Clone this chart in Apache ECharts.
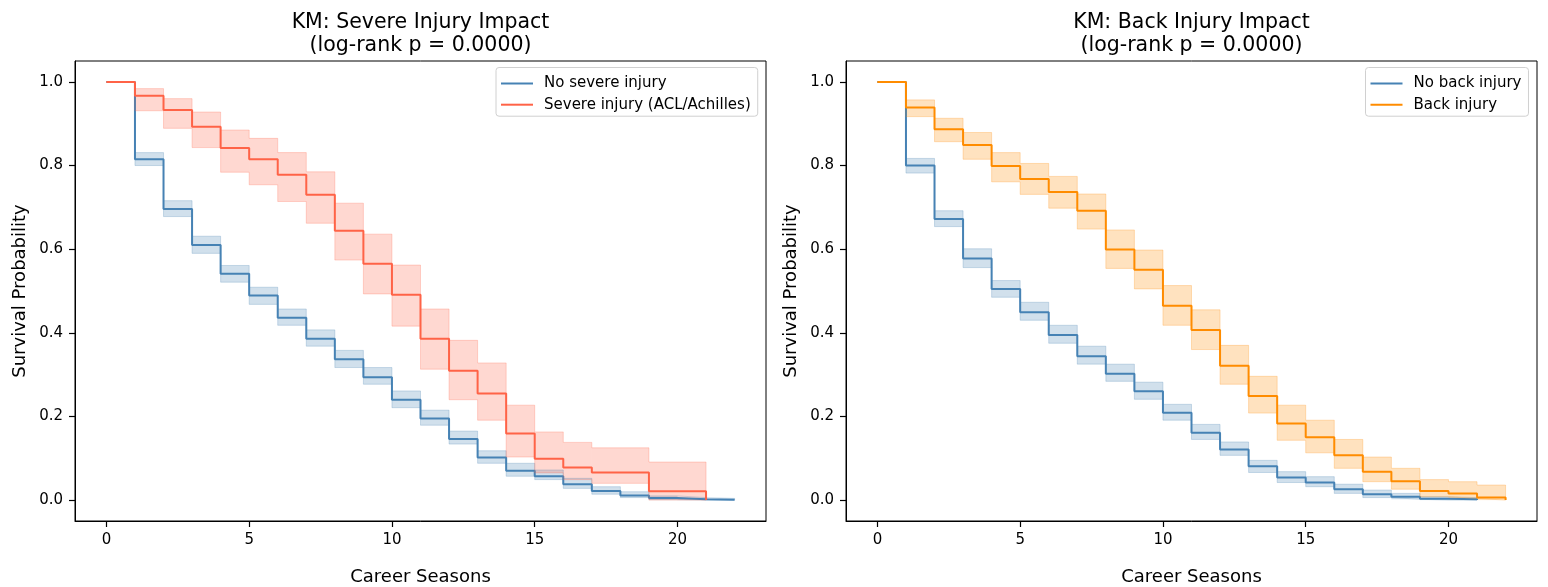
<!DOCTYPE html>
<html>
<head>
<meta charset="utf-8">
<script src="https://cdn.jsdelivr.net/npm/echarts@6/dist/echarts.min.js"></script>
<style>
  html, body { margin: 0; padding: 0; background: #fff; }
  #chart { width: 1548px; height: 587px; }
</style>
</head>
<body>
<div id="chart"></div>
<script>
// 左图：严重伤病 (ACL/Achilles)
const noSevereT = [0, 1, 2, 3, 4, 5, 6, 7, 8, 9, 10, 11, 12, 13, 14, 15, 16, 17, 18, 19, 20, 21, 22];
const noSevere = [1.0, 0.815, 0.696, 0.610, 0.541, 0.489, 0.436, 0.386, 0.337, 0.294, 0.240, 0.195, 0.146, 0.102, 0.070, 0.057, 0.038, 0.022, 0.011, 0.005, 0.002, 0.001, 0.0];
const noSevereLo = [1.0, 0.800, 0.678, 0.590, 0.521, 0.468, 0.418, 0.368, 0.317, 0.277, 0.221, 0.179, 0.134, 0.088, 0.057, 0.049, 0.028, 0.014, 0.006, 0.001, 0.0, 0.0, 0.0];
const noSevereHi = [1.0, 0.831, 0.716, 0.631, 0.561, 0.509, 0.457, 0.407, 0.358, 0.317, 0.261, 0.215, 0.165, 0.118, 0.088, 0.072, 0.052, 0.032, 0.020, 0.010, 0.006, 0.004, 0.0];

const severeT = [0, 1, 2, 3, 4, 5, 6, 7, 8, 9, 10, 11, 12, 13, 14, 15, 16, 17, 19, 21];
const severe = [1.0, 0.967, 0.933, 0.893, 0.842, 0.815, 0.778, 0.730, 0.644, 0.565, 0.491, 0.386, 0.309, 0.255, 0.159, 0.099, 0.078, 0.066, 0.021, 0.0];
const severeLo = [1.0, 0.931, 0.889, 0.843, 0.784, 0.754, 0.714, 0.662, 0.574, 0.493, 0.416, 0.313, 0.240, 0.191, 0.103, 0.065, 0.049, 0.040, 0.0, 0.0];
const severeHi = [1.0, 0.984, 0.960, 0.928, 0.885, 0.865, 0.831, 0.785, 0.710, 0.636, 0.562, 0.457, 0.382, 0.328, 0.227, 0.163, 0.138, 0.125, 0.091, 0.0];

// 右图：背部伤病
const noBackT = [0, 1, 2, 3, 4, 5, 6, 7, 8, 9, 10, 11, 12, 13, 14, 15, 16, 17, 18, 19, 20, 21];
const noBack = [1.0, 0.800, 0.672, 0.578, 0.505, 0.449, 0.395, 0.344, 0.302, 0.260, 0.209, 0.161, 0.121, 0.081, 0.054, 0.042, 0.026, 0.014, 0.008, 0.003, 0.002, 0.0];
const noBackLo = [1.0, 0.782, 0.654, 0.556, 0.485, 0.430, 0.375, 0.325, 0.284, 0.241, 0.191, 0.145, 0.107, 0.066, 0.042, 0.032, 0.016, 0.006, 0.002, 0.0, 0.0, 0.0];
const noBackHi = [1.0, 0.817, 0.692, 0.601, 0.525, 0.473, 0.418, 0.368, 0.325, 0.282, 0.229, 0.181, 0.139, 0.095, 0.068, 0.056, 0.038, 0.024, 0.016, 0.008, 0.006, 0.0];

const backT = [0, 1, 2, 3, 4, 5, 6, 7, 8, 9, 10, 11, 12, 13, 14, 15, 16, 17, 18, 19, 20, 21, 22];
const back = [1.0, 0.939, 0.887, 0.849, 0.799, 0.768, 0.737, 0.692, 0.599, 0.551, 0.465, 0.407, 0.321, 0.249, 0.183, 0.150, 0.107, 0.068, 0.045, 0.022, 0.016, 0.006, 0.0];
const backLo = [1.0, 0.917, 0.857, 0.815, 0.761, 0.731, 0.698, 0.648, 0.554, 0.505, 0.418, 0.360, 0.277, 0.208, 0.143, 0.113, 0.076, 0.044, 0.026, 0.008, 0.004, 0.0, 0.0];
const backHi = [1.0, 0.957, 0.913, 0.879, 0.831, 0.805, 0.774, 0.732, 0.646, 0.598, 0.513, 0.455, 0.370, 0.296, 0.227, 0.191, 0.145, 0.103, 0.076, 0.049, 0.044, 0.036, 0.0];

const xTicks = [0, 5, 10, 15, 20];
const yTicks = [0, 0.2, 0.4, 0.6, 0.8, 1.0];

const FONT = 'DejaVu Sans';
const chart = echarts.init(document.getElementById('chart'));

// 置信区间：每一段画一个矩形
const bandSeries = (name, idx, t, lo, hi, color) => {
  const data = [];
  for (let i = 0; i < t.length - 1; i++) {
    data.push([t[i], t[i + 1], lo[i], hi[i]]);
  }
  return {
    name: name + ' CI',
    type: 'custom',
    xAxisIndex: idx,
    yAxisIndex: idx,
    silent: true,
    encode: { x: [0, 1], y: [2, 3] },
    data: data,
    renderItem: (params, api) => {
      const p0 = api.coord([api.value(0), api.value(3)]);
      const p1 = api.coord([api.value(1), api.value(2)]);
      return {
        type: 'rect',
        shape: { x: p0[0], y: p0[1], width: p1[0] - p0[0], height: p1[1] - p0[1] },
        style: { fill: color, opacity: 0.25 }
      };
    }
  };
};

// 置信区间的边线
const edgeSeries = (idx, t, v, color) => ({
  type: 'line',
  xAxisIndex: idx,
  yAxisIndex: idx,
  step: 'end',
  symbol: 'none',
  silent: true,
  data: t.map((x, i) => [x, v[i]]),
  lineStyle: { color: color, width: 1, opacity: 0.25 }
});

const kmSeries = (name, idx, t, v, color) => ({
  name: name,
  type: 'line',
  xAxisIndex: idx,
  yAxisIndex: idx,
  step: 'end',
  symbol: 'none',
  color: color,
  data: t.map((x, i) => [x, v[i]]),
  lineStyle: { color: color, width: 2 }
});

const group = (name, idx, t, v, lo, hi, color) => [
  bandSeries(name, idx, t, lo, hi, color),
  edgeSeries(idx, t, lo, color),
  edgeSeries(idx, t, hi, color),
  kmSeries(name, idx, t, v, color)
];

const makeX = (idx) => ({
  type: 'value',
  gridIndex: idx,
  min: -1.1,
  max: 23.1,
  name: 'Career Seasons',
  nameLocation: 'middle',
  nameGap: 47,
  nameTextStyle: { fontFamily: FONT, fontSize: 18, color: '#000' },
  axisLine: { show: true, onZero: false, lineStyle: { color: '#000', width: 1 } },
  splitLine: { show: false },
  axisTick: { show: true, inside: false, length: 6, lineStyle: { color: '#000', width: 1.2 }, customValues: xTicks },
  axisLabel: { fontFamily: FONT, fontSize: 15, color: '#000', margin: 12, customValues: xTicks }
});

const makeY = (idx) => ({
  type: 'value',
  gridIndex: idx,
  min: -0.05,
  max: 1.05,
  name: 'Survival Probability',
  nameLocation: 'middle',
  nameGap: 46,
  nameTextStyle: { fontFamily: FONT, fontSize: 18, color: '#000' },
  axisLine: { show: true, onZero: false, lineStyle: { color: '#000', width: 1 } },
  splitLine: { show: false },
  axisTick: { show: true, inside: false, length: 6, lineStyle: { color: '#000', width: 1.2 }, customValues: yTicks },
  axisLabel: {
    fontFamily: FONT, fontSize: 15, color: '#000', margin: 12,
    customValues: yTicks,
    formatter: (v) => v.toFixed(1)
  }
});

const makeLegend = (left, names) => ({
  data: names,
  orient: 'vertical',
  left: left,
  top: 67.5,
  icon: 'rect',
  itemWidth: 32,
  itemHeight: 2,
  itemGap: 6.2,
  padding: [8.5, 7, 4, 5],
  borderColor: '#d0d0d0',
  borderWidth: 1,
  borderRadius: 3,
  backgroundColor: 'rgba(255,255,255,0.8)',
  selectedMode: false,
  textStyle: { fontFamily: FONT, fontSize: 15, color: '#000', lineHeight: 15, padding: [0, 0, 0, 6] }
});

chart.setOption({
  animation: false,
  backgroundColor: '#fff',
  title: [
    {
      text: 'KM: Severe Injury Impact\n(log-rank p = 0.0000)',
      left: 420.5, top: 11.5, padding: 0, textAlign: 'center',
      textStyle: { fontFamily: FONT, fontSize: 20.5, fontWeight: 'normal', color: '#000', lineHeight: 23 }
    },
    {
      text: 'KM: Back Injury Impact\n(log-rank p = 0.0000)',
      left: 1191.5, top: 11.5, padding: 0, textAlign: 'center',
      textStyle: { fontFamily: FONT, fontSize: 20.5, fontWeight: 'normal', color: '#000', lineHeight: 23 }
    }
  ],
  legend: [
    makeLegend(496, ['No severe injury', 'Severe injury (ACL/Achilles)']),
    makeLegend(1365.5, ['No back injury', 'Back injury'])
  ],
  grid: [
    { left: 75, top: 61, width: 691, height: 460, outerBoundsMode: 'none', show: true, borderColor: '#000', borderWidth: 1 },
    { left: 846, top: 61, width: 691, height: 460, outerBoundsMode: 'none', show: true, borderColor: '#000', borderWidth: 1 }
  ],
  xAxis: [makeX(0), makeX(1)],
  yAxis: [makeY(0), makeY(1)],
  series: [
    ...group('No severe injury', 0, noSevereT, noSevere, noSevereLo, noSevereHi, '#4682B4'),
    ...group('Severe injury (ACL/Achilles)', 0, severeT, severe, severeLo, severeHi, '#FF6347'),
    ...group('No back injury', 1, noBackT, noBack, noBackLo, noBackHi, '#4682B4'),
    ...group('Back injury', 1, backT, back, backLo, backHi, '#FF8C00')
  ]
});
</script>
</body>
</html>
